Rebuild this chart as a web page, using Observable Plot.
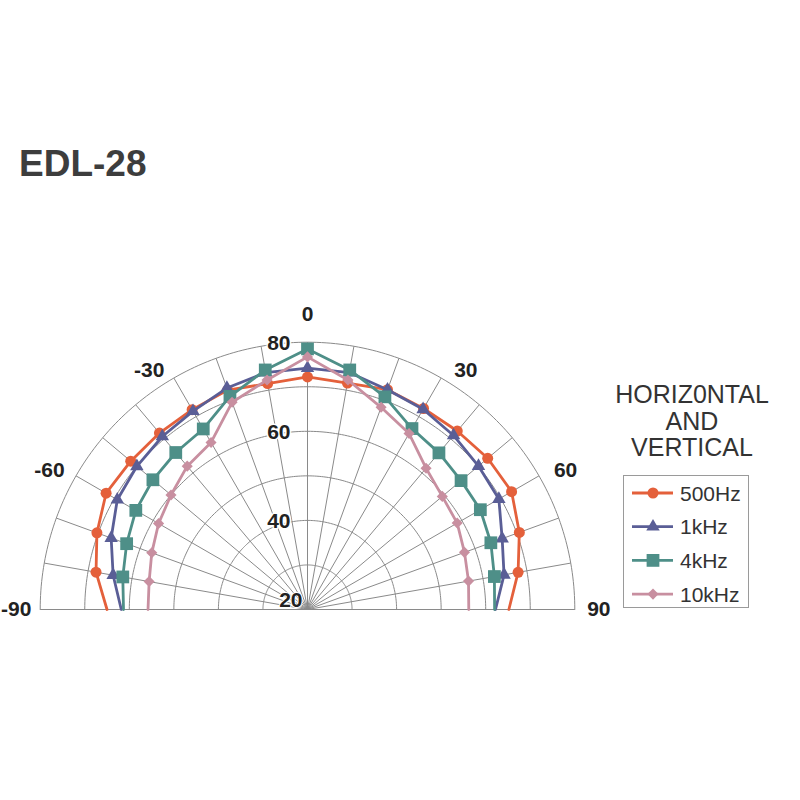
<!DOCTYPE html>
<html>
<head>
<meta charset="utf-8">
<script src="https://cdn.jsdelivr.net/npm/d3@7"></script>
<script src="https://cdn.jsdelivr.net/npm/@observablehq/plot@0.6"></script>
<style>
  body { margin: 0; background: #fff; font-family: "Liberation Sans", Arial, sans-serif; }
  #wrap { position: relative; width: 800px; height: 800px; overflow: hidden; background: #fff; }
  #chart { position: absolute; left: 0; top: 0; }
  #title { position: absolute; left: 19px; top: 145px; font-size: 37px; line-height: 1; font-weight: bold; color: #3d3d3d; }
  #legtitle { position: absolute; left: 592px; width: 200px; top: 381px; text-align: center; font-size: 25px; line-height: 26.5px; color: #333; }
  #legend { position: absolute; left: 0; top: 0; pointer-events: none; }
</style>
</head>
<body>
<div id="wrap">
  <div id="chart"></div>
  <div id="title">EDL-28</div>
  <div id="legtitle">HORIZ0NTAL<br>AND<br>VERTICAL</div>
  <svg id="legend" width="800" height="800"></svg>
</div>
<script>
// ---- data ----
const angles = [-90, -80, -70, -60, -50, -40, -30, -20, -10, 0, 10, 20, 30, 40, 50, 60, 70, 80, 90];
const seriesNames = ["500Hz", "1kHz", "4kHz", "10kHz"];
const s500  = [65.0, 68.2, 70.3, 72.2, 71.8, 71.7, 71.8, 72.4, 71.5, 72.2, 71.6, 72.5, 72.1, 72.3, 72.8, 72.9, 70.6, 68.0, 65.2];
const s1k   = [61.8, 64.3, 66.9, 69.3, 70.0, 70.7, 71.4, 72.9, 74.0, 74.2, 74.0, 72.5, 71.9, 71.0, 70.1, 69.6, 66.5, 64.8, 62.2];
const s4k   = [61.3, 62.1, 63.2, 64.5, 65.3, 66.0, 66.8, 70.9, 74.6, 78.5, 74.6, 70.8, 66.9, 65.9, 65.0, 64.8, 63.8, 62.6, 62.0];
const s10k  = [55.8, 56.1, 57.2, 58.6, 60.0, 62.0, 63.3, 69.5, 72.3, 76.7, 72.3, 68.3, 65.6, 61.4, 59.5, 58.8, 57.5, 56.7, 56.2];
const ringLevels = [30, 40, 50, 60, 70, 80];
const ringLabels = [40, 60, 80];
const centerLabel = [20];
const angleTicks = [-90, -60, -30, 0, 30, 60, 90];
const angleTickLabels = ["-90", "-60", "-30", "0", "30", "60", "90"];

// ---- styles ----
const colors = ["#e4603b", "#5a5e96", "#4e8f88", "#c88fa0"];
const symbols = ["circle", "triangle", "square", "diamond2"];
const sizes = [5.5, 5, 7.2, 5];

const seriesValues = [s500, s1k, s4k, s10k];
const rows = [];
seriesNames.forEach((name, i) => angles.forEach((a, j) => rows.push({series: name, angle: a, db: seriesValues[i][j]})));

const MIN = 20, MAX = 80;
const rad = a => a * Math.PI / 180;
const px = d => (d.db - MIN) * Math.sin(rad(d.angle));
const py = d => (d.db - MIN) * Math.cos(rad(d.angle));

const ringRows = ringLevels.flatMap(l => d3.range(-90, 90.01, 1).map(a => ({level: l, angle: a, db: l})));
const spokeAngles = d3.range(-90, 91, 10);

// label placement along the outer edge
const labelAngle = a => a === 0 || Math.abs(a) === 90 ? a : a + Math.sign(a) * (Math.abs(a) === 30 ? 3.5 : 1.7);
const labelRadius = a => a === 0 ? 66.2 : Math.abs(a) === 30 ? 64.4 : Math.abs(a) === 60 ? 65.8 : 65.4;

const R = MAX - MIN;
const cx = 307, cy = 609, pr = 267.3;

const marks = [
  Plot.line(ringRows, {x: px, y: py, z: "level", stroke: "#8a8a8a", strokeWidth: 1}),
  Plot.link(spokeAngles, {x1: () => 0, y1: () => 0, x2: a => R * Math.sin(rad(a)), y2: a => R * Math.cos(rad(a)), stroke: "#8a8a8a", strokeWidth: 1}),
  Plot.text(ringLabels, {x: () => 0, y: d => d - MIN, text: d => String(d), textAnchor: "end", dx: -17, dy: 1, fontSize: 21, fontWeight: "bold", fill: "#222", stroke: "#fff", strokeWidth: 3}),
  Plot.text(centerLabel, {x: () => 0, y: d => d - MIN, text: d => String(d), textAnchor: "end", dx: -5, dy: -9, fontSize: 21, fontWeight: "bold", fill: "#222", stroke: "#fff", strokeWidth: 2}),
  Plot.text(angleTicks, {
    x: a => labelRadius(a) * Math.sin(rad(labelAngle(a))),
    y: a => labelRadius(a) * Math.cos(rad(labelAngle(a))),
    text: (a, i) => angleTickLabels[i],
    fontSize: 21, fontWeight: "bold", fill: "#222"
  })
];
seriesNames.forEach((name, i) => {
  const data = rows.filter(d => d.series === name);
  marks.push(Plot.line(data, {x: px, y: py, stroke: colors[i], strokeWidth: 2.8, curve: "linear"}));
  marks.push(Plot.dot(data.filter(d => Math.abs(d.angle) < 90), {x: px, y: py, symbol: symbols[i], r: sizes[i], fill: colors[i], stroke: "none"}));
});

const chart = Plot.plot({
  width: 800,
  height: 800,
  margin: 0,
  x: {domain: [-R, R], range: [cx - pr, cx + pr], axis: null},
  y: {domain: [0, R], range: [cy, cy - pr], axis: null},
  style: {fontFamily: "'Liberation Sans', Arial, sans-serif", background: "transparent"},
  marks
});
document.getElementById("chart").appendChild(chart);

// ---- legend ----
const leg = d3.select("#legend");
leg.append("rect").attr("x", 623.5).attr("y", 475.5).attr("width", 125).attr("height", 132)
  .attr("fill", "#fff").attr("stroke", "#9a9a9a").attr("stroke-width", 1);
const symMap = {circle: d3.symbolCircle, triangle: d3.symbolTriangle, square: d3.symbolSquare, diamond2: d3.symbolDiamond2};
seriesNames.forEach((name, i) => {
  const y = 493 + i * 33.7;
  leg.append("line").attr("x1", 632).attr("x2", 673).attr("y1", y).attr("y2", y)
    .attr("stroke", colors[i]).attr("stroke-width", 2.8);
  leg.append("path").attr("transform", `translate(653,${y})`)
    .attr("d", d3.symbol(symMap[symbols[i]], Math.PI * sizes[i] * sizes[i])())
    .attr("fill", colors[i]);
  leg.append("text").attr("x", 680).attr("y", y + 7.5).text(name)
    .attr("font-size", 21).attr("fill", "#333")
    .attr("font-family", "'Liberation Sans', Arial, sans-serif");
});
</script>
</body>
</html>
